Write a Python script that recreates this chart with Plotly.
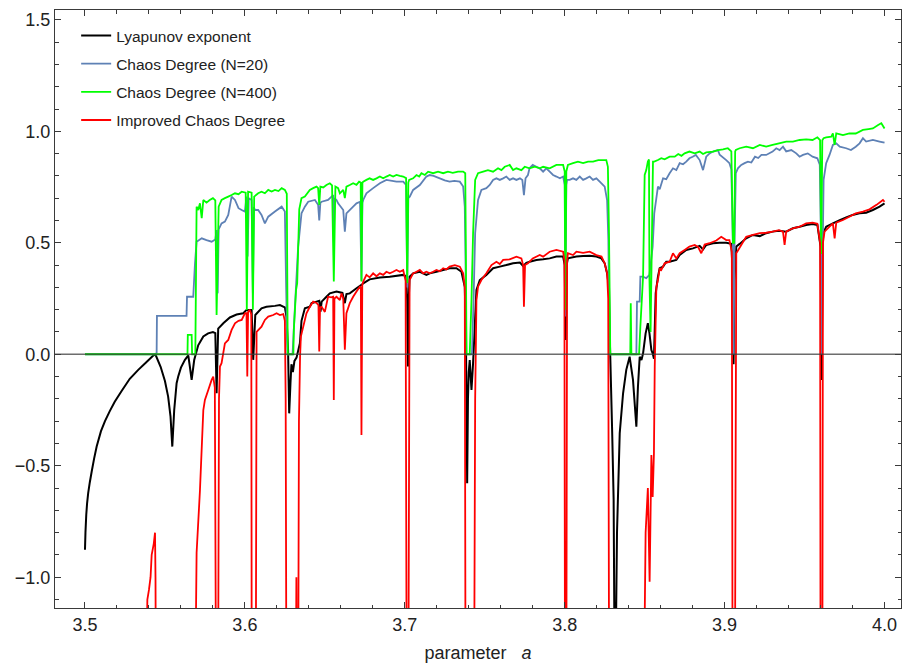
import plotly.graph_objects as go

# ---- data: (parameter a, value) ----
lyap_points = [
    (3.5000, -0.877), (3.5003, -0.800), (3.5008, -0.720), (3.5013, -0.670), (3.5020, -0.623),
    (3.5030, -0.575), (3.5042, -0.526), (3.5057, -0.468), (3.5073, -0.414), (3.5100, -0.345),
    (3.5125, -0.300), (3.5155, -0.255), (3.5186, -0.213), (3.5229, -0.165), (3.5280, -0.110),
    (3.5333, -0.070), (3.5380, -0.038), (3.5427, -0.006), (3.5440, 0.000), (3.5473, -0.056),
    (3.5500, -0.120), (3.5520, -0.190), (3.5535, -0.280), (3.5546, -0.414), (3.5558, -0.250),
    (3.5573, -0.130), (3.5583, -0.100), (3.5600, -0.060), (3.5625, -0.025), (3.5646, -0.005),
    (3.5656, -0.056), (3.5667, -0.115), (3.5683, -0.026), (3.5708, 0.040), (3.5740, 0.080),
    (3.5770, 0.094), (3.5800, 0.100), (3.5815, 0.095), (3.5823, -0.175), (3.5833, 0.115),
    (3.5865, 0.139), (3.5906, 0.165), (3.5948, 0.178), (3.5990, 0.184), (3.6010, 0.199),
    (3.6042, 0.199), (3.6052, -0.025), (3.6065, 0.176), (3.6104, 0.206), (3.6135, 0.213),
    (3.6188, 0.217), (3.6219, 0.221), (3.6250, 0.210), (3.6260, 0.169), (3.6270, 0.020),
    (3.6277, -0.265), (3.6285, -0.130), (3.6291, -0.045), (3.6300, -0.080), (3.6310, -0.030),
    (3.6323, -0.015), (3.6344, 0.050), (3.6354, 0.150), (3.6375, 0.206), (3.6406, 0.213),
    (3.6417, 0.229), (3.6448, 0.236), (3.6465, 0.240), (3.6473, 0.191), (3.6480, 0.236),
    (3.6510, 0.258), (3.6531, 0.273), (3.6573, 0.281), (3.6610, 0.275), (3.6625, 0.229),
    (3.6635, 0.270), (3.6656, 0.273), (3.6698, 0.296), (3.6729, 0.311), (3.6740, 0.318),
    (3.6780, 0.336), (3.6844, 0.344), (3.6906, 0.348), (3.6990, 0.356), (3.7008, 0.350),
    (3.7015, 0.243), (3.7020, -0.055), (3.7025, 0.250), (3.7030, 0.348), (3.7052, 0.363),
    (3.7094, 0.370), (3.7135, 0.356), (3.7156, 0.363), (3.7198, 0.370), (3.7240, 0.378),
    (3.7280, 0.386), (3.7323, 0.386), (3.7354, 0.370), (3.7375, 0.303), (3.7382, 0.094),
    (3.7387, -0.300), (3.7390, -0.578), (3.7395, -0.200), (3.7400, -0.080), (3.7406, -0.026),
    (3.7412, -0.100), (3.7417, -0.160), (3.7427, -0.040), (3.7448, 0.288), (3.7469, 0.333),
    (3.7510, 0.356), (3.7552, 0.386), (3.7594, 0.393), (3.7635, 0.400), (3.7677, 0.408),
    (3.7720, 0.411), (3.7740, 0.396), (3.7760, 0.410), (3.7781, 0.415), (3.7823, 0.423),
    (3.7865, 0.426), (3.7906, 0.430), (3.7948, 0.438), (3.7990, 0.438), (3.8000, 0.400),
    (3.8006, 0.064), (3.8012, 0.400), (3.8020, 0.430), (3.8073, 0.438), (3.8115, 0.441),
    (3.8156, 0.442), (3.8198, 0.438), (3.8229, 0.430), (3.8250, 0.408), (3.8265, 0.363),
    (3.8277, 0.300), (3.8281, 0.094), (3.8285, -0.011), (3.8297, -0.354), (3.8306, -0.653),
    (3.8312, -1.400), (3.8318, -1.400), (3.8327, -0.800), (3.8344, -0.354), (3.8365, -0.175),
    (3.8385, -0.070), (3.8406, -0.011), (3.8427, -0.115), (3.8448, -0.325), (3.8458, -0.145),
    (3.8469, -0.011), (3.8480, -0.026), (3.8490, 0.004), (3.8506, 0.094), (3.8520, 0.139),
    (3.8530, 0.094), (3.8542, 0.019), (3.8550, 0.004), (3.8558, -0.020), (3.8569, 0.273),
    (3.8583, 0.348), (3.8594, 0.386), (3.8615, 0.393), (3.8635, 0.415), (3.8656, 0.415),
    (3.8698, 0.423), (3.8719, 0.445), (3.8760, 0.468), (3.8802, 0.475), (3.8844, 0.486),
    (3.8865, 0.470), (3.8885, 0.490), (3.8927, 0.498), (3.8969, 0.500), (3.9010, 0.500),
    (3.9042, 0.495), (3.9052, 0.333), (3.9056, -0.045), (3.9062, 0.333), (3.9073, 0.483),
    (3.9094, 0.495), (3.9135, 0.520), (3.9177, 0.535), (3.9220, 0.530), (3.9260, 0.543),
    (3.9300, 0.550), (3.9340, 0.554), (3.9385, 0.550), (3.9427, 0.565), (3.9469, 0.572),
    (3.9510, 0.580), (3.9550, 0.584), (3.9580, 0.580), (3.9600, 0.483), (3.9607, -0.115),
    (3.9613, 0.483), (3.9617, 0.543), (3.9635, 0.572), (3.9677, 0.587), (3.9720, 0.602),
    (3.9760, 0.614), (3.9800, 0.625), (3.9844, 0.632), (3.9885, 0.635), (3.9927, 0.647),
    (3.9969, 0.662), (4.0000, 0.677),
]

cd20_points = [
    (3.5000, 0.000), (3.5448, 0.000), (3.5450, 0.172), (3.5635, 0.172), (3.5638, 0.258),
    (3.5677, 0.258), (3.5688, 0.408), (3.5698, 0.505), (3.5730, 0.520), (3.5760, 0.512),
    (3.5792, 0.505), (3.5815, 0.515), (3.5823, 0.557), (3.5830, 0.273), (3.5836, 0.560),
    (3.5854, 0.587), (3.5875, 0.595), (3.5896, 0.625), (3.5917, 0.707), (3.5938, 0.692),
    (3.5960, 0.655), (3.5980, 0.647), (3.6000, 0.640), (3.6010, 0.707), (3.6017, 0.438),
    (3.6024, 0.700), (3.6042, 0.692), (3.6050, 0.273), (3.6056, 0.660), (3.6063, 0.647),
    (3.6083, 0.647), (3.6104, 0.625), (3.6125, 0.587), (3.6146, 0.617), (3.6188, 0.640),
    (3.6230, 0.662), (3.6250, 0.640), (3.6258, 0.300), (3.6266, 0.000), (3.6298, 0.000),
    (3.6313, 0.213), (3.6333, 0.483), (3.6354, 0.632), (3.6375, 0.662), (3.6396, 0.684),
    (3.6438, 0.692), (3.6458, 0.670), (3.6465, 0.600), (3.6472, 0.680), (3.6480, 0.684),
    (3.6520, 0.692), (3.6552, 0.714), (3.6556, 0.500), (3.6560, 0.700), (3.6573, 0.692),
    (3.6583, 0.677), (3.6615, 0.647), (3.6625, 0.550), (3.6635, 0.632), (3.6677, 0.662),
    (3.6698, 0.677), (3.6720, 0.684), (3.6729, 0.330), (3.6735, 0.680), (3.6740, 0.692),
    (3.6760, 0.722), (3.6802, 0.745), (3.6844, 0.767), (3.6885, 0.782), (3.6948, 0.774),
    (3.6990, 0.774), (3.7008, 0.760), (3.7015, 0.300), (3.7022, 0.700), (3.7031, 0.707),
    (3.7052, 0.737), (3.7094, 0.759), (3.7135, 0.797), (3.7156, 0.804), (3.7180, 0.800),
    (3.7219, 0.789), (3.7250, 0.780), (3.7280, 0.774), (3.7310, 0.778), (3.7344, 0.774),
    (3.7365, 0.752), (3.7375, 0.662), (3.7380, 0.400), (3.7385, 0.000), (3.7420, 0.000),
    (3.7430, 0.243), (3.7440, 0.543), (3.7458, 0.692), (3.7479, 0.737), (3.7510, 0.745),
    (3.7531, 0.759), (3.7552, 0.782), (3.7573, 0.789), (3.7594, 0.782), (3.7615, 0.789),
    (3.7635, 0.797), (3.7656, 0.782), (3.7677, 0.789), (3.7698, 0.782), (3.7720, 0.789),
    (3.7735, 0.782), (3.7745, 0.714), (3.7755, 0.789), (3.7770, 0.804), (3.7780, 0.834),
    (3.7800, 0.849), (3.7823, 0.841), (3.7844, 0.834), (3.7865, 0.819), (3.7885, 0.834),
    (3.7906, 0.819), (3.7927, 0.804), (3.7948, 0.797), (3.7970, 0.789), (3.7990, 0.797),
    (3.8000, 0.760), (3.8004, 0.169), (3.8010, 0.760), (3.8015, 0.782), (3.8031, 0.782),
    (3.8052, 0.789), (3.8073, 0.782), (3.8094, 0.797), (3.8115, 0.782), (3.8135, 0.789),
    (3.8156, 0.797), (3.8177, 0.782), (3.8198, 0.789), (3.8219, 0.774), (3.8250, 0.752),
    (3.8265, 0.692), (3.8273, 0.512), (3.8281, 0.000), (3.8448, 0.000), (3.8452, 0.236),
    (3.8469, 0.236), (3.8473, 0.348), (3.8490, 0.348), (3.8510, 0.341), (3.8530, 0.356),
    (3.8550, 0.483), (3.8560, 0.632), (3.8583, 0.752), (3.8594, 0.740), (3.8615, 0.789),
    (3.8635, 0.785), (3.8656, 0.812), (3.8677, 0.834), (3.8698, 0.826), (3.8719, 0.857),
    (3.8740, 0.852), (3.8760, 0.864), (3.8780, 0.879), (3.8800, 0.886), (3.8820, 0.894),
    (3.8844, 0.871), (3.8865, 0.826), (3.8885, 0.886), (3.8906, 0.901), (3.8927, 0.909),
    (3.8958, 0.916), (3.8969, 0.895), (3.9010, 0.871), (3.9030, 0.857), (3.9042, 0.830),
    (3.9052, 0.483), (3.9056, 0.000), (3.9062, 0.500), (3.9070, 0.812), (3.9083, 0.834),
    (3.9104, 0.849), (3.9125, 0.857), (3.9146, 0.864), (3.9167, 0.860), (3.9190, 0.886),
    (3.9210, 0.880), (3.9230, 0.894), (3.9260, 0.894), (3.9300, 0.909), (3.9323, 0.924),
    (3.9344, 0.916), (3.9365, 0.931), (3.9385, 0.910), (3.9417, 0.916), (3.9448, 0.901),
    (3.9469, 0.886), (3.9490, 0.894), (3.9520, 0.901), (3.9550, 0.886), (3.9580, 0.879),
    (3.9595, 0.850), (3.9603, 0.483), (3.9608, 0.000), (3.9614, 0.500), (3.9619, 0.782),
    (3.9635, 0.857), (3.9656, 0.894), (3.9677, 0.939), (3.9698, 0.946), (3.9720, 0.931),
    (3.9760, 0.924), (3.9790, 0.916), (3.9820, 0.931), (3.9844, 0.946), (3.9865, 0.969),
    (3.9885, 0.954), (3.9927, 0.961), (3.9969, 0.954), (4.0000, 0.949),
]

cd400_points = [
    (3.5000, 0.000), (3.5641, 0.000), (3.5643, 0.087), (3.5667, 0.087), (3.5670, 0.000),
    (3.5690, 0.000), (3.5698, 0.662), (3.5708, 0.647), (3.5719, 0.677), (3.5730, 0.610),
    (3.5740, 0.692), (3.5760, 0.680), (3.5780, 0.692), (3.5800, 0.700), (3.5815, 0.690),
    (3.5823, 0.176), (3.5836, 0.662), (3.5854, 0.692), (3.5875, 0.700), (3.5896, 0.707),
    (3.5917, 0.714), (3.5938, 0.722), (3.5960, 0.718), (3.5980, 0.729), (3.6005, 0.725),
    (3.6012, 0.199), (3.6020, 0.729), (3.6042, 0.725), (3.6050, 0.200), (3.6058, 0.707),
    (3.6083, 0.722), (3.6104, 0.729), (3.6125, 0.722), (3.6146, 0.737), (3.6167, 0.730),
    (3.6188, 0.737), (3.6210, 0.732), (3.6230, 0.745), (3.6250, 0.737), (3.6262, 0.720),
    (3.6268, 0.000), (3.6303, 0.000), (3.6306, 0.109), (3.6320, 0.288), (3.6327, 0.318),
    (3.6340, 0.650), (3.6354, 0.700), (3.6375, 0.707), (3.6406, 0.737), (3.6427, 0.745),
    (3.6448, 0.752), (3.6458, 0.745), (3.6465, 0.670), (3.6472, 0.752), (3.6490, 0.748),
    (3.6510, 0.759), (3.6531, 0.767), (3.6545, 0.757), (3.6556, 0.326), (3.6566, 0.752),
    (3.6583, 0.745), (3.6594, 0.722), (3.6615, 0.737), (3.6625, 0.700), (3.6635, 0.752),
    (3.6656, 0.759), (3.6677, 0.767), (3.6698, 0.760), (3.6714, 0.774), (3.6724, 0.770),
    (3.6729, 0.326), (3.6735, 0.770), (3.6740, 0.774), (3.6760, 0.782), (3.6780, 0.789),
    (3.6802, 0.782), (3.6823, 0.789), (3.6844, 0.797), (3.6865, 0.789), (3.6885, 0.797),
    (3.6906, 0.804), (3.6927, 0.797), (3.6948, 0.804), (3.6969, 0.800), (3.6990, 0.797),
    (3.7008, 0.790), (3.7015, 0.320), (3.7022, 0.770), (3.7027, 0.782), (3.7052, 0.789),
    (3.7073, 0.804), (3.7090, 0.797), (3.7104, 0.812), (3.7125, 0.804), (3.7146, 0.819),
    (3.7177, 0.812), (3.7208, 0.819), (3.7240, 0.812), (3.7270, 0.819), (3.7300, 0.814),
    (3.7333, 0.819), (3.7365, 0.819), (3.7378, 0.812), (3.7381, 0.540), (3.7386, 0.000),
    (3.7406, 0.000), (3.7417, 0.243), (3.7427, 0.543), (3.7440, 0.782), (3.7458, 0.812),
    (3.7490, 0.819), (3.7520, 0.826), (3.7552, 0.819), (3.7583, 0.834), (3.7604, 0.826),
    (3.7625, 0.841), (3.7656, 0.849), (3.7677, 0.826), (3.7698, 0.834), (3.7729, 0.826),
    (3.7750, 0.841), (3.7780, 0.834), (3.7813, 0.841), (3.7844, 0.834), (3.7865, 0.841),
    (3.7906, 0.834), (3.7948, 0.849), (3.7990, 0.849), (3.8000, 0.820), (3.8004, 0.200),
    (3.8010, 0.820), (3.8020, 0.849), (3.8052, 0.857), (3.8083, 0.864), (3.8115, 0.857),
    (3.8146, 0.864), (3.8177, 0.864), (3.8210, 0.871), (3.8240, 0.871), (3.8260, 0.871),
    (3.8270, 0.841), (3.8277, 0.543), (3.8285, 0.000), (3.8410, 0.000), (3.8413, 0.229),
    (3.8417, 0.000), (3.8465, 0.000), (3.8473, 0.124), (3.8490, 0.348), (3.8500, 0.804),
    (3.8510, 0.826), (3.8520, 0.864), (3.8527, 0.874), (3.8530, 0.333), (3.8537, 0.100),
    (3.8545, 0.500), (3.8552, 0.864), (3.8560, 0.864), (3.8583, 0.871), (3.8604, 0.879),
    (3.8625, 0.874), (3.8656, 0.886), (3.8688, 0.886), (3.8710, 0.898), (3.8730, 0.890),
    (3.8750, 0.901), (3.8780, 0.909), (3.8813, 0.901), (3.8844, 0.909), (3.8865, 0.898),
    (3.8885, 0.905), (3.8927, 0.909), (3.8960, 0.916), (3.8990, 0.919), (3.9020, 0.924),
    (3.9042, 0.910), (3.9052, 0.500), (3.9060, 0.500), (3.9066, 0.910), (3.9070, 0.916),
    (3.9094, 0.924), (3.9135, 0.931), (3.9177, 0.924), (3.9220, 0.939), (3.9260, 0.931),
    (3.9300, 0.939), (3.9340, 0.946), (3.9385, 0.954), (3.9427, 0.954), (3.9469, 0.961),
    (3.9510, 0.964), (3.9550, 0.961), (3.9580, 0.973), (3.9597, 0.960), (3.9604, 0.450),
    (3.9611, 0.960), (3.9619, 0.969), (3.9635, 0.973), (3.9667, 0.976), (3.9677, 0.991),
    (3.9688, 0.939), (3.9698, 0.991), (3.9740, 0.983), (3.9780, 0.991), (3.9820, 0.990),
    (3.9865, 1.006), (3.9900, 1.010), (3.9927, 1.013), (3.9960, 1.028), (3.9980, 1.036),
    (4.0000, 1.013),
]

# values far below the frame stand for the curve dropping out of view
icd_points = [
    (3.5380, -1.600), (3.5390, -1.100), (3.5400, -1.057), (3.5410, -1.000), (3.5417, -0.900),
    (3.5430, -0.850), (3.5438, -0.800), (3.5441, -1.000), (3.5444, -1.600), (3.5688, -1.600),
    (3.5698, -0.890), (3.5719, -0.610), (3.5740, -0.250), (3.5750, -0.205), (3.5771, -0.160),
    (3.5792, -0.115), (3.5802, -0.100), (3.5812, -0.150), (3.5820, -1.600), (3.5832, -1.600),
    (3.5838, -0.200), (3.5844, -0.055), (3.5854, -0.040), (3.5875, 0.049), (3.5896, 0.064),
    (3.5917, 0.109), (3.5938, 0.139), (3.5960, 0.150), (3.5980, 0.154), (3.6000, 0.184),
    (3.6010, 0.185), (3.6015, -0.100), (3.6020, 0.190), (3.6030, 0.199), (3.6040, 0.180),
    (3.6043, -1.600), (3.6068, -1.600), (3.6073, 0.100), (3.6104, 0.124), (3.6125, 0.154),
    (3.6146, 0.169), (3.6177, 0.176), (3.6198, 0.184), (3.6219, 0.176), (3.6240, 0.180),
    (3.6250, 0.150), (3.6255, -0.200), (3.6260, -1.600), (3.6318, -1.600), (3.6322, -1.000),
    (3.6326, -1.600), (3.6333, -1.600), (3.6338, -0.300), (3.6345, -0.011), (3.6350, 0.079),
    (3.6365, 0.124), (3.6385, 0.184), (3.6406, 0.213), (3.6427, 0.236), (3.6448, 0.230),
    (3.6460, 0.220), (3.6465, 0.012), (3.6470, 0.210), (3.6480, 0.213), (3.6500, 0.190),
    (3.6520, 0.258), (3.6540, 0.255), (3.6552, 0.258), (3.6556, -0.205), (3.6560, 0.250),
    (3.6573, 0.258), (3.6594, 0.243), (3.6604, 0.273), (3.6615, 0.250), (3.6625, 0.020),
    (3.6635, 0.184), (3.6656, 0.229), (3.6677, 0.258), (3.6698, 0.281), (3.6719, 0.303),
    (3.6725, 0.300), (3.6729, -0.362), (3.6734, 0.310), (3.6740, 0.326), (3.6760, 0.356),
    (3.6780, 0.345), (3.6802, 0.363), (3.6823, 0.350), (3.6844, 0.363), (3.6865, 0.356),
    (3.6885, 0.370), (3.6906, 0.363), (3.6927, 0.370), (3.6948, 0.378), (3.6969, 0.370),
    (3.6990, 0.378), (3.7005, 0.330), (3.7012, -1.600), (3.7022, -1.600), (3.7030, 0.333),
    (3.7052, 0.363), (3.7073, 0.370), (3.7094, 0.378), (3.7115, 0.363), (3.7135, 0.370),
    (3.7156, 0.363), (3.7177, 0.370), (3.7198, 0.378), (3.7219, 0.372), (3.7240, 0.386),
    (3.7260, 0.380), (3.7280, 0.393), (3.7313, 0.400), (3.7344, 0.393), (3.7365, 0.363),
    (3.7375, 0.300), (3.7380, -1.600), (3.7433, -1.600), (3.7440, -0.200), (3.7448, 0.243),
    (3.7458, 0.303), (3.7479, 0.333), (3.7510, 0.363), (3.7542, 0.400), (3.7573, 0.415),
    (3.7594, 0.405), (3.7615, 0.423), (3.7656, 0.426), (3.7698, 0.438), (3.7729, 0.430),
    (3.7740, 0.400), (3.7745, 0.213), (3.7752, 0.400), (3.7770, 0.408), (3.7800, 0.430),
    (3.7844, 0.445), (3.7865, 0.438), (3.7906, 0.460), (3.7948, 0.468), (3.7990, 0.460),
    (3.7998, 0.420), (3.8002, -1.600), (3.8010, -1.600), (3.8015, 0.420), (3.8020, 0.453),
    (3.8052, 0.445), (3.8073, 0.460), (3.8115, 0.455), (3.8156, 0.460), (3.8198, 0.445),
    (3.8230, 0.438), (3.8250, 0.408), (3.8265, 0.363), (3.8272, 0.250), (3.8278, -1.600),
    (3.8494, -1.600), (3.8506, -0.800), (3.8520, -0.600), (3.8531, -1.020), (3.8542, -0.452),
    (3.8550, -0.640), (3.8558, -0.444), (3.8563, -0.055), (3.8573, 0.300), (3.8583, 0.333),
    (3.8594, 0.386), (3.8604, 0.378), (3.8625, 0.408), (3.8656, 0.415), (3.8677, 0.453),
    (3.8698, 0.430), (3.8719, 0.453), (3.8750, 0.468), (3.8780, 0.483), (3.8813, 0.490),
    (3.8835, 0.480), (3.8854, 0.453), (3.8875, 0.492), (3.8906, 0.498), (3.8948, 0.510),
    (3.8979, 0.527), (3.9010, 0.512), (3.9030, 0.512), (3.9045, 0.460), (3.9050, -1.600),
    (3.9064, -1.600), (3.9073, 0.453), (3.9104, 0.490), (3.9135, 0.527), (3.9177, 0.535),
    (3.9220, 0.543), (3.9260, 0.545), (3.9300, 0.550), (3.9340, 0.557), (3.9365, 0.550),
    (3.9375, 0.490), (3.9385, 0.550), (3.9427, 0.565), (3.9469, 0.572), (3.9510, 0.587),
    (3.9550, 0.590), (3.9580, 0.585), (3.9597, 0.500), (3.9600, -1.600), (3.9611, -1.600),
    (3.9615, 0.500), (3.9625, 0.550), (3.9656, 0.572), (3.9677, 0.587), (3.9688, 0.520),
    (3.9698, 0.590), (3.9740, 0.602), (3.9780, 0.617), (3.9820, 0.632), (3.9865, 0.640),
    (3.9906, 0.650), (3.9950, 0.670), (3.9990, 0.692), (4.0000, 0.684),
]

series_names = ["Lyapunov exponent", "Chaos Degree (N=20)",
                "Chaos Degree (N=400)", "Improved Chaos Degree"]
series_data = [lyap_points, cd20_points, cd400_points, icd_points]
series_colors = ["#000000", "#5E81B5", "#00FF00", "#FF0000"]
series_widths = [2.0, 1.8, 1.8, 1.8]

x_tick_vals = [3.5, 3.6, 3.7, 3.8, 3.9, 4.0]
y_tick_vals = [-1.0, -0.5, 0.0, 0.5, 1.0, 1.5]

FONT = "Liberation Sans, Arial, sans-serif"
FRAME = "#3a3a3a"

fig = go.Figure()
for i, (name, pts, col, w) in enumerate(zip(series_names, series_data, series_colors, series_widths)):
    xs = [p[0] for p in pts]
    ys = [p[1] for p in pts]
    fig.add_trace(go.Scatter(
        x=xs, y=ys, mode="lines", name=name, legendgroup=f"g{i}",
        line=dict(color=col, width=w, simplify=False),
        hoverinfo="skip",
    ))

# horizontal axis line at zero, drawn above the curves (as in the reference)
fig.add_shape(type="line", xref="paper", yref="y", x0=0, x1=1, y0=0, y1=0,
              line=dict(color="rgba(60,60,60,0.75)", width=1.3), layer="above")

fig.update_layout(
    width=904, height=671,
    margin=dict(l=55, r=3, t=10, b=63),
    paper_bgcolor="white", plot_bgcolor="white",
    font=dict(family=FONT, size=18, color="#222222"),
    showlegend=True,
    legend=dict(
        x=0.025, y=0.985, xanchor="left", yanchor="top",
        bgcolor="rgba(0,0,0,0)", borderwidth=0,
        font=dict(family=FONT, size=15.5, color="#222222"),
        tracegroupgap=5,
    ),
    xaxis=dict(
        range=[3.48125, 4.0103], showgrid=False, zeroline=False,
        showline=True, linecolor=FRAME, linewidth=1, mirror="allticks",
        tickmode="array", tickvals=x_tick_vals, tickformat=".1f",
        ticks="inside", ticklen=6, tickwidth=1, tickcolor=FRAME,
        minor=dict(dtick=0.02, tick0=3.5, ticks="inside", ticklen=3.5,
                   tickwidth=1, tickcolor=FRAME, showgrid=False),
        tickfont=dict(family=FONT, size=18, color="#222222"),
        title=dict(text="parameter\u00a0\u00a0\u00a0<i>a</i>", standoff=12,
                   font=dict(family=FONT, size=18, color="#222222")),
    ),
    yaxis=dict(
        range=[-1.138, 1.544], showgrid=False, zeroline=False,
        showline=True, linecolor=FRAME, linewidth=1, mirror="allticks",
        tickmode="array", tickvals=y_tick_vals, tickformat=".1f",
        ticks="inside", ticklen=6, tickwidth=1, tickcolor=FRAME,
        minor=dict(dtick=0.1, tick0=0, ticks="inside", ticklen=3.5,
                   tickwidth=1, tickcolor=FRAME, showgrid=False),
        tickfont=dict(family=FONT, size=18, color="#222222"),
    ),
)

fig.write_html("out.html")
